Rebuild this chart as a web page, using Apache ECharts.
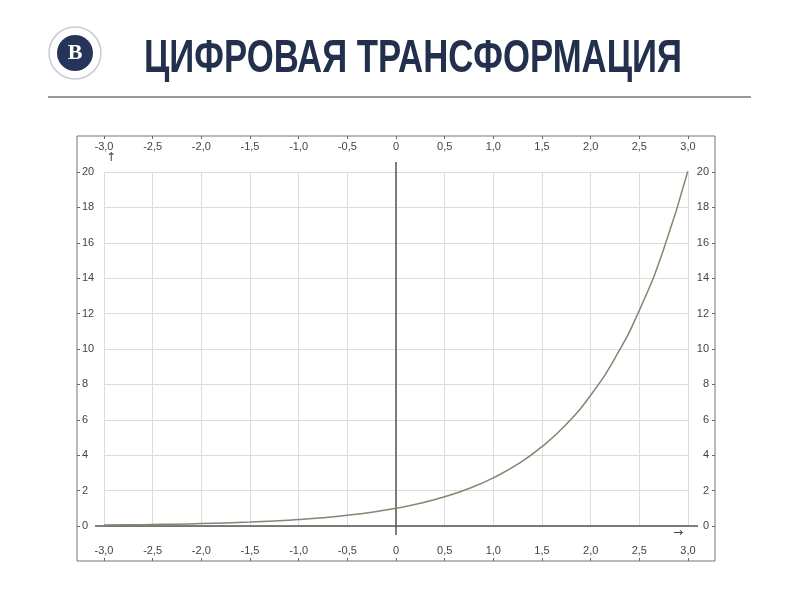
<!DOCTYPE html>
<html>
<head>
<meta charset="utf-8">
<script src="https://cdn.jsdelivr.net/npm/echarts@6/dist/echarts.min.js"></script>
<style>
  html, body { margin: 0; background: #fff; }
  #chart { width: 800px; height: 600px; }
</style>
</head>
<body>
<div id="chart"></div>
<script>
// values (y = e^x curve)
const xValues = [-3, -2.75, -2.5, -2.25, -2, -1.75, -1.5, -1.25, -1, -0.75, -0.5, -0.25, 0,
  0.25, 0.5, 0.75, 1, 1.25, 1.5, 1.75, 2, 2.25, 2.5, 2.75, 3];
const yValues = [0.05, 0.064, 0.082, 0.105, 0.135, 0.174, 0.223, 0.287, 0.368, 0.472, 0.607, 0.779, 1.0,
  1.284, 1.649, 2.117, 2.718, 3.49, 4.48, 5.75, 7.39, 9.49, 12.18, 15.64, 20.09];
const xTickLabels = ["-3,0", "-2,5", "-2,0", "-1,5", "-1,0", "-0,5", "0", "0,5", "1,0", "1,5", "2,0", "2,5", "3,0"];
const yTickLabels = ["0", "2", "4", "6", "8", "10", "12", "14", "16", "18", "20"];
const title = "ЦИФРОВАЯ ТРАНСФОРМАЦИЯ";

let myChart = echarts.init(document.getElementById("chart"));

let xLabel = function (v) {
  return xTickLabels[Math.round((v + 3) / 0.5)];
};
let yLabel = function (v) {
  return yTickLabels[Math.round(v / 2)];
};

let labelStyle = { color: "#444", fontSize: 11, fontFamily: "Liberation Sans, Arial, sans-serif" };

function xAxisOpt(pos, offset, split) {
  return {
    type: "value",
    position: pos,
    min: -3,
    max: 3,
    interval: 0.5,
    offset: offset,
    axisLine: { show: false, onZero: false },
    axisTick: { show: true, inside: true, length: 3, lineStyle: { color: "#666" } },
    axisLabel: Object.assign({ inside: true, margin: 5, formatter: xLabel }, labelStyle),
    splitLine: { show: split, lineStyle: { color: "#dcdcdc", width: 1 } },
  };
}
function yAxisOpt(pos, offset, split, margin) {
  return {
    type: "value",
    position: pos,
    min: 0,
    max: 20,
    interval: 2,
    offset: offset,
    axisLine: { show: false, onZero: false },
    axisTick: { show: true, inside: true, length: 3, lineStyle: { color: "#666" } },
    axisLabel: Object.assign({ inside: true, margin: margin, formatter: yLabel }, labelStyle),
    splitLine: { show: split, lineStyle: { color: "#dcdcdc", width: 1 } },
  };
}

myChart.setOption({
  animation: false,
  backgroundColor: "#fff",
  grid: { left: 104, right: 112, top: 172, bottom: 74 },
  xAxis: [xAxisOpt("bottom", 35, true), xAxisOpt("top", 36, false)],
  yAxis: [yAxisOpt("left", 27, true, 5), yAxisOpt("right", 27, false, 6)],
  series: [
    {
      type: "line",
      data: xValues.map((x, i) => [x, yValues[i]]),
      smooth: true,
      showSymbol: false,
      z: 5,
      lineStyle: { color: "#8c8272", width: 1.5 },
    },
  ],
});

// title font is condensed; squeeze a normal bold face to the reference width
let titleFont = "bold 46px 'Liberation Sans', Arial, sans-serif";
let ctx = document.createElement("canvas").getContext("2d");
ctx.font = titleFont;
let titleScale = 538 / ctx.measureText(title).width;

// zero axes, frame, title, logo
let o = myChart.convertToPixel({ gridIndex: 0 }, [0, 0]);
myChart.setOption({
  graphic: [
    {
      type: "rect",
      shape: { x: 77, y: 136, width: 638, height: 425 },
      style: { fill: null, stroke: "#777", lineWidth: 1 },
      z: 1,
    },
    {
      type: "line",
      shape: { x1: 95, y1: o[1], x2: 698, y2: o[1] },
      style: { stroke: "#555", lineWidth: 1.5 },
      z: 3,
    },
    {
      type: "line",
      shape: { x1: o[0], y1: 162, x2: o[0], y2: 535 },
      style: { stroke: "#555", lineWidth: 1.5 },
      z: 3,
    },
    {
      type: "text",
      left: 106,
      top: 152,
      style: { text: "↑", fill: "#444", font: "12px DejaVu Sans" },
    },
    {
      type: "text",
      left: 673,
      top: 527,
      style: { text: "→", fill: "#444", font: "12px DejaVu Sans" },
    },
    {
      type: "text",
      x: 144,
      y: 59,
      scaleX: titleScale,
      style: {
        text: title,
        fill: "#22304d",
        font: titleFont,
        align: "left",
        verticalAlign: "middle",
      },
    },
    {
      type: "line",
      shape: { x1: 48, y1: 97, x2: 751, y2: 97 },
      style: { stroke: "#9a9a9a", lineWidth: 2 },
    },
    {
      type: "circle",
      shape: { cx: 75, cy: 53, r: 26 },
      style: { fill: "#fff", stroke: "#c8ccd6", lineWidth: 1.5 },
    },
    {
      type: "circle",
      shape: { cx: 75, cy: 53, r: 18 },
      style: { fill: "#25355a" },
    },
    {
      type: "text",
      x: 75,
      y: 53,
      style: {
        text: "В",
        fill: "#fff",
        font: "bold 22px 'Liberation Serif', serif",
        align: "center",
        verticalAlign: "middle",
      },
    },
  ],
});
</script>
</body>
</html>
